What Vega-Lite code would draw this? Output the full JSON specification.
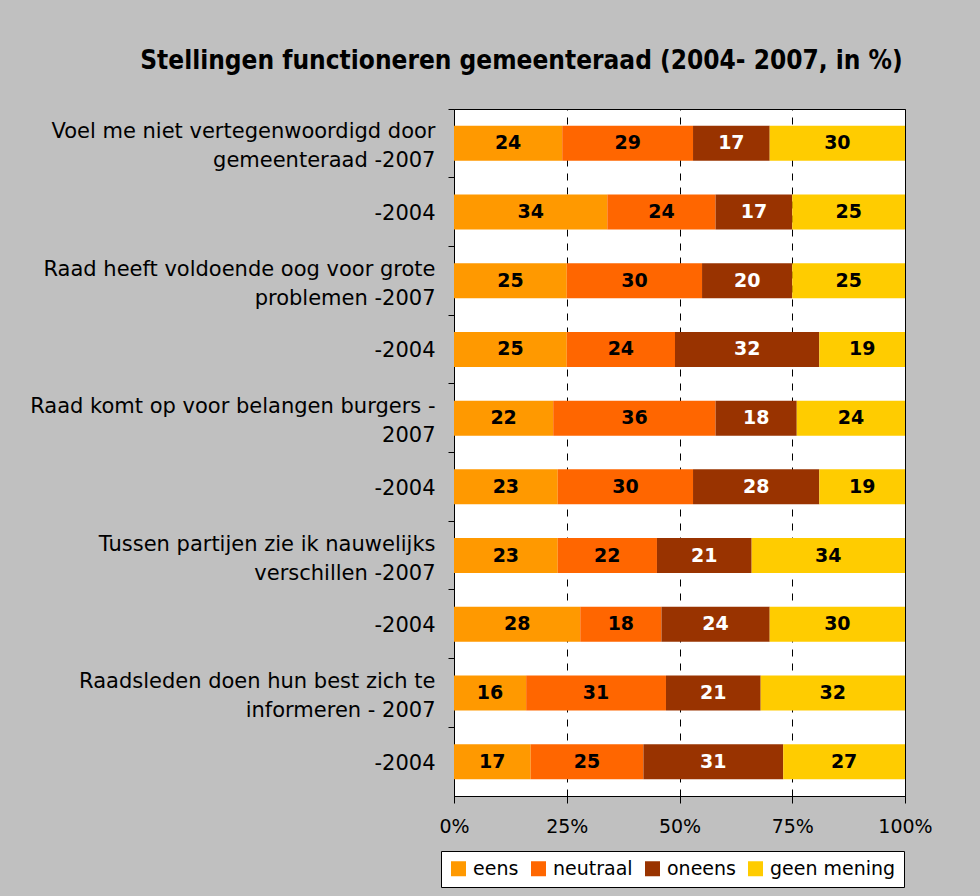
{
  "$schema": "https://vega.github.io/schema/vega-lite/v6.json",
  "width": 451,
  "height": 687,
  "autosize": {"type": "none"},
  "padding": {"left": 454, "top": 109, "right": 75, "bottom": 100},
  "background": "#C0C0C0",
  "title": {
    "text": "Stellingen functioneren gemeenteraad (2004- 2007, in %)",
    "frame": "group",
    "anchor": "middle",
    "dx": -158,
    "offset": 14,
    "baseline": "alphabetic",
    "font": "DejaVu Sans Condensed",
    "fontSize": 26,
    "fontWeight": "bold",
    "color": "black"
  },
  "data": {
    "values": [
      {"stelling": "Voel me niet vertegenwoordigd door|gemeenteraad -2007", "categorie": "eens", "waarde": 24},
      {"stelling": "Voel me niet vertegenwoordigd door|gemeenteraad -2007", "categorie": "neutraal", "waarde": 29},
      {"stelling": "Voel me niet vertegenwoordigd door|gemeenteraad -2007", "categorie": "oneens", "waarde": 17},
      {"stelling": "Voel me niet vertegenwoordigd door|gemeenteraad -2007", "categorie": "geen mening", "waarde": 30},
      {"stelling": "Voel me niet vertegenwoordigd door#-2004", "categorie": "eens", "waarde": 34},
      {"stelling": "Voel me niet vertegenwoordigd door#-2004", "categorie": "neutraal", "waarde": 24},
      {"stelling": "Voel me niet vertegenwoordigd door#-2004", "categorie": "oneens", "waarde": 17},
      {"stelling": "Voel me niet vertegenwoordigd door#-2004", "categorie": "geen mening", "waarde": 25},
      {"stelling": "Raad heeft voldoende oog voor grote|problemen -2007", "categorie": "eens", "waarde": 25},
      {"stelling": "Raad heeft voldoende oog voor grote|problemen -2007", "categorie": "neutraal", "waarde": 30},
      {"stelling": "Raad heeft voldoende oog voor grote|problemen -2007", "categorie": "oneens", "waarde": 20},
      {"stelling": "Raad heeft voldoende oog voor grote|problemen -2007", "categorie": "geen mening", "waarde": 25},
      {"stelling": "Raad heeft voldoende oog voor grote#-2004", "categorie": "eens", "waarde": 25},
      {"stelling": "Raad heeft voldoende oog voor grote#-2004", "categorie": "neutraal", "waarde": 24},
      {"stelling": "Raad heeft voldoende oog voor grote#-2004", "categorie": "oneens", "waarde": 32},
      {"stelling": "Raad heeft voldoende oog voor grote#-2004", "categorie": "geen mening", "waarde": 19},
      {"stelling": "Raad komt op voor belangen burgers -|2007", "categorie": "eens", "waarde": 22},
      {"stelling": "Raad komt op voor belangen burgers -|2007", "categorie": "neutraal", "waarde": 36},
      {"stelling": "Raad komt op voor belangen burgers -|2007", "categorie": "oneens", "waarde": 18},
      {"stelling": "Raad komt op voor belangen burgers -|2007", "categorie": "geen mening", "waarde": 24},
      {"stelling": "Raad komt op voor belangen burgers#-2004", "categorie": "eens", "waarde": 23},
      {"stelling": "Raad komt op voor belangen burgers#-2004", "categorie": "neutraal", "waarde": 30},
      {"stelling": "Raad komt op voor belangen burgers#-2004", "categorie": "oneens", "waarde": 28},
      {"stelling": "Raad komt op voor belangen burgers#-2004", "categorie": "geen mening", "waarde": 19},
      {"stelling": "Tussen partijen zie ik nauwelijks|verschillen -2007", "categorie": "eens", "waarde": 23},
      {"stelling": "Tussen partijen zie ik nauwelijks|verschillen -2007", "categorie": "neutraal", "waarde": 22},
      {"stelling": "Tussen partijen zie ik nauwelijks|verschillen -2007", "categorie": "oneens", "waarde": 21},
      {"stelling": "Tussen partijen zie ik nauwelijks|verschillen -2007", "categorie": "geen mening", "waarde": 34},
      {"stelling": "Tussen partijen zie ik nauwelijks#-2004", "categorie": "eens", "waarde": 28},
      {"stelling": "Tussen partijen zie ik nauwelijks#-2004", "categorie": "neutraal", "waarde": 18},
      {"stelling": "Tussen partijen zie ik nauwelijks#-2004", "categorie": "oneens", "waarde": 24},
      {"stelling": "Tussen partijen zie ik nauwelijks#-2004", "categorie": "geen mening", "waarde": 30},
      {"stelling": "Raadsleden doen hun best zich te|informeren - 2007", "categorie": "eens", "waarde": 16},
      {"stelling": "Raadsleden doen hun best zich te|informeren - 2007", "categorie": "neutraal", "waarde": 31},
      {"stelling": "Raadsleden doen hun best zich te|informeren - 2007", "categorie": "oneens", "waarde": 21},
      {"stelling": "Raadsleden doen hun best zich te|informeren - 2007", "categorie": "geen mening", "waarde": 32},
      {"stelling": "Raadsleden doen hun best zich te#-2004", "categorie": "eens", "waarde": 17},
      {"stelling": "Raadsleden doen hun best zich te#-2004", "categorie": "neutraal", "waarde": 25},
      {"stelling": "Raadsleden doen hun best zich te#-2004", "categorie": "oneens", "waarde": 31},
      {"stelling": "Raadsleden doen hun best zich te#-2004", "categorie": "geen mening", "waarde": 27}
    ]
  },
  "transform": [
    {"window": [{"op": "row_number", "as": "volgnr"}]}
  ],
  "encoding": {
    "y": {
      "field": "stelling",
      "type": "nominal",
      "sort": null,
      "scale": {"paddingInner": 0, "paddingOuter": 0},
      "axis": {
        "title": null,
        "bandPosition": 0,
        "tickSize": 6,
        "labelPadding": 13,
        "labelFontSize": 21,
        "labelAlign": "right",
        "labelBaseline": "middle",
        "labelLineHeight": 29,
        "labelLimit": 0,
        "labelOffset": {"condition": {"test": "indexof(datum.value, '|') >= 0", "value": -11}, "value": 2},
        "labelExpr": "indexof(datum.value, '#') >= 0 ? split(datum.value, '#')[1] : split(datum.value, '|')"
      }
    },
    "x": {
      "field": "waarde",
      "type": "quantitative",
      "stack": "zero",
      "scale": {"domain": [0, 100], "nice": false},
      "axis": {
        "title": null,
        "values": [0, 25, 50, 75, 100],
        "labelExpr": "datum.value + '%'",
        "grid": true,
        "gridColor": "black",
        "gridDash": [7, 7],
        "gridWidth": 1,
        "gridOpacity": 1,
        "tickSize": 7,
        "labelPadding": 14,
        "labelFontSize": 19,
        "labelFlush": false,
        "labelOverlap": false
      }
    },
    "order": {"field": "volgnr", "type": "quantitative"}
  },
  "layer": [
    {
      "mark": {"type": "bar", "height": {"band": 0.51}},
      "encoding": {
        "color": {
          "field": "categorie",
          "type": "nominal",
          "sort": ["eens", "neutraal", "oneens", "geen mening"],
          "scale": {
            "domain": ["eens", "neutraal", "oneens", "geen mening"],
            "range": ["#FF9900", "#FF6600", "#993300", "#FFCC00"]
          },
          "legend": {
            "orient": "none",
            "legendX": -13,
            "legendY": 742,
            "direction": "horizontal",
            "title": null,
            "fillColor": "white",
            "strokeColor": "black",
            "padding": 8,
            "symbolType": "square",
            "symbolSize": 225,
            "symbolStrokeWidth": 0,
            "symbolOpacity": 1,
            "labelFontSize": 19,
            "labelFont": "DejaVu Sans",
            "labelColor": "black",
            "columnPadding": 10,
            "labelOffset": 5
          }
        }
      }
    },
    {
      "mark": {"type": "text", "font": "DejaVu Sans", "fontWeight": "bold", "fontSize": 19, "baseline": "middle", "align": "center"},
      "encoding": {
        "x": {"field": "waarde", "type": "quantitative", "stack": "zero", "bandPosition": 0.5},
        "detail": {"field": "categorie"},
        "text": {"field": "waarde", "type": "quantitative"},
        "color": {
          "condition": {"test": "datum.categorie === 'oneens'", "value": "white"},
          "value": "black"
        }
      }
    }
  ],
  "config": {
    "view": {"fill": "white", "stroke": "black", "strokeWidth": 1},
    "axis": {
      "domainColor": "black",
      "tickColor": "black",
      "labelColor": "black",
      "labelFont": "DejaVu Sans",
      "domainWidth": 1,
      "tickWidth": 1
    }
  }
}
